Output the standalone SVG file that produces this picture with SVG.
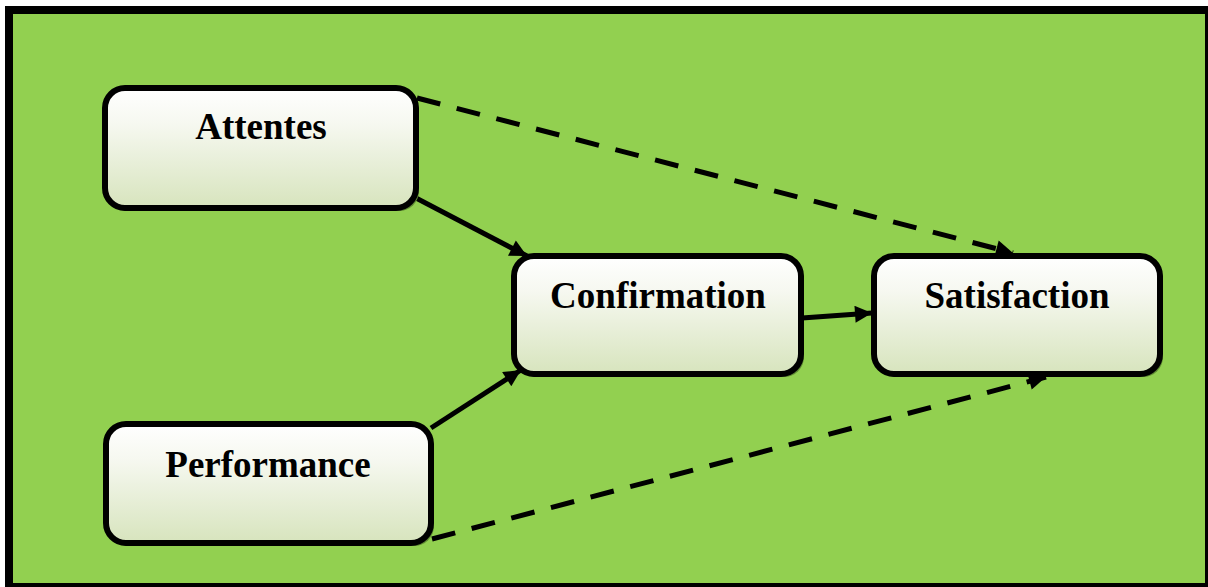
<svg xmlns="http://www.w3.org/2000/svg" width="1208" height="587" viewBox="0 0 1208 587">
  <defs>
    <linearGradient id="boxfill" x1="0" y1="0" x2="0" y2="1">
      <stop offset="0" stop-color="#ffffff"/>
      <stop offset="0.3" stop-color="#f6f8f0"/>
      <stop offset="1" stop-color="#d7e4bd"/>
    </linearGradient>
    <marker id="arrow" viewBox="0 0 10 10" refX="10" refY="5" markerWidth="3.8" markerHeight="3.4" orient="auto" markerUnits="strokeWidth">
      <path d="M0,0 L10,5 L0,10 z" fill="#000"/>
    </marker>
    <style>
      .box { fill: url(#boxfill); stroke: #000; stroke-width: 6; }
      .shadow { fill: #5f8a33; }
      .label { font-family: "Liberation Serif", "Times New Roman", serif; font-weight: bold; font-size: 37px; fill: #000; text-anchor: middle; }
      .solid { stroke: #000; stroke-width: 5; fill: none; marker-end: url(#arrow); }
      .dashed { stroke: #000; stroke-width: 5; fill: none; stroke-dasharray: 24 17; marker-end: url(#arrow); }
    </style>
  </defs>

  <rect x="9" y="10" width="1200" height="577" fill="#92d050" stroke="#000" stroke-width="8"/>

  <g id="connectors">
    <line class="dashed" x1="417" y1="98" x2="1013" y2="253"/>
    <line class="dashed" x1="432" y1="539" x2="1046" y2="377"/>
    <line class="solid" x1="416" y1="198" x2="527" y2="256"/>
    <line class="solid" x1="431" y1="428" x2="521" y2="370"/>
    <line class="solid" x1="802" y1="318" x2="872" y2="313"/>
  </g>

  <g id="node-attentes">
    <rect class="shadow" x="108" y="91" width="311" height="120" rx="20"/>
    <rect class="box" x="105" y="88" width="311" height="120" rx="20"/>
    <text class="label" x="261" y="139">Attentes</text>
  </g>

  <g id="node-confirmation">
    <rect class="shadow" x="517" y="259" width="287" height="118" rx="20"/>
    <rect class="box" x="514" y="256" width="287" height="118" rx="20"/>
    <text class="label" x="658" y="308">Confirmation</text>
  </g>

  <g id="node-satisfaction">
    <rect class="shadow" x="877" y="259" width="286" height="118" rx="20"/>
    <rect class="box" x="874" y="256" width="286" height="118" rx="20"/>
    <text class="label" x="1017" y="308">Satisfaction</text>
  </g>

  <g id="node-performance">
    <rect class="shadow" x="109" y="427" width="325" height="119" rx="20"/>
    <rect class="box" x="106" y="424" width="325" height="119" rx="20"/>
    <text class="label" x="268" y="477">Performance</text>
  </g>
</svg>
